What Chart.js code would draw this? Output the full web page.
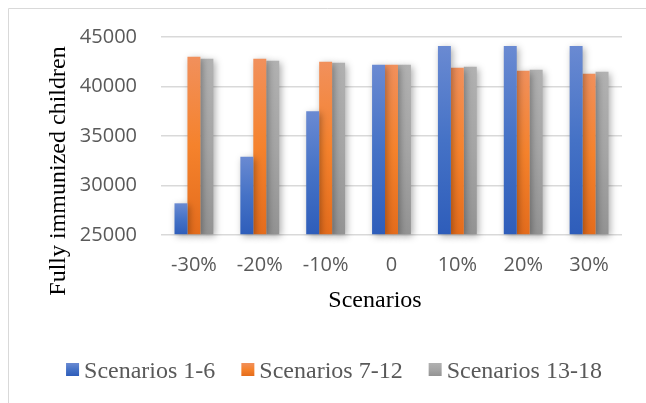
<!DOCTYPE html>
<html>
<head>
<meta charset="utf-8">
<script src="https://cdn.jsdelivr.net/npm/chart.js@4/dist/chart.umd.min.js"></script>
<style>
  html, body { margin: 0; padding: 0; background: #ffffff; }
  #wrap { width: 646px; height: 403px; position: relative; }
</style>
</head>
<body>
<div id="wrap"><canvas id="c" width="646" height="403"></canvas></div>
<script>
// Fully immunized children by scenario group
const categories = ['-30%', '-20%', '-10%', '0', '10%', '20%', '30%'];
const seriesNames = ['Scenarios 1-6', 'Scenarios 7-12', 'Scenarios 13-18'];
const scen1to6   = [28200, 32900, 37500, 42200, 44100, 44100, 44100];
const scen7to12  = [43000, 42800, 42500, 42200, 41900, 41600, 41300];
const scen13to18 = [42800, 42600, 42400, 42200, 42000, 41700, 41500];
const yTicks = [25000, 30000, 35000, 40000, 45000];
const xTitle = 'Scenarios';
const yTitle = 'Fully immunized children';

// vertical gradient stops per series (top, middle, bottom)
const blueStops   = ['#6A8AD2', '#4572C6', '#2E5DBA'];
const orangeStops = ['#F1905C', '#F5822C', '#E46C1C'];
const grayStops   = ['#B1B1B1', '#A5A5A5', '#939393'];

const tickColor = '#595959';
const gridColor = '#d9d9d9';
const axisBase = yTicks[0];

function barFill(stops) {
  return (ctx) => {
    const chart = ctx.chart;
    const y = chart.scales && chart.scales.y;
    if (ctx.type !== 'data' || !y || !ctx.parsed) return stops[1];
    const top = y.getPixelForValue(ctx.parsed.y);
    const bottom = y.getPixelForValue(axisBase);
    if (!isFinite(top) || !isFinite(bottom) || top === bottom) return stops[1];
    const g = chart.ctx.createLinearGradient(0, top, 0, bottom);
    g.addColorStop(0, stops[0]);
    g.addColorStop(0.5, stops[1]);
    g.addColorStop(1, stops[2]);
    return g;
  };
}

// soft drop shadow behind the bars
const barShadow = {
  id: 'barShadow',
  beforeDatasetsDraw(chart) {
    const c = chart.ctx;
    c.save();
    c.shadowColor = 'rgba(0,0,0,0.32)';
    c.shadowBlur = 7;
    c.shadowOffsetX = 2;
    c.shadowOffsetY = 2;
  },
  afterDatasetsDraw(chart) {
    chart.ctx.restore();
  }
};

// frame, axis titles and legend row
const decorations = {
  id: 'decorations',
  beforeDraw(chart) {
    const c = chart.ctx;
    c.save();
    c.strokeStyle = '#d9d9d9';
    c.lineWidth = 1;
    c.beginPath();
    c.moveTo(8.5, 403);
    c.lineTo(8.5, 8.5);
    c.lineTo(646, 8.5);
    c.stroke();
    c.restore();
  },
  afterDraw(chart) {
    const c = chart.ctx;
    c.save();
    c.fillStyle = '#000000';
    c.font = '24px "Liberation Serif"';
    c.textAlign = 'center';
    c.textBaseline = 'alphabetic';
    c.fillText(xTitle, 375, 307);

    c.save();
    c.translate(65, 171);
    c.rotate(-Math.PI / 2);
    c.fillText(yTitle, 0, 0);
    c.restore();

    // legend
    const stopsList = [blueStops, orangeStops, grayStops];
    c.font = '24px "Liberation Serif"';
    c.textAlign = 'left';
    const box = 13, gapText = 5, gapItem = 26;
    const widths = seriesNames.map(n => c.measureText(n).width);
    const total = widths.reduce((a, w) => a + box + gapText + w, 0) + gapItem * (seriesNames.length - 1);
    let x = 334 - total / 2;
    const boxTop = 363;
    seriesNames.forEach((name, i) => {
      const g = c.createLinearGradient(0, boxTop, 0, boxTop + box);
      g.addColorStop(0, stopsList[i][0]);
      g.addColorStop(0.5, stopsList[i][1]);
      g.addColorStop(1, stopsList[i][2]);
      c.fillStyle = g;
      c.fillRect(x, boxTop, box, box);
      c.fillStyle = tickColor;
      c.fillText(name, x + box + gapText, 378);
      x += box + gapText + widths[i] + gapItem;
    });
    c.restore();
  }
};

new Chart(document.getElementById('c'), {
  type: 'bar',
  data: {
    labels: categories,
    datasets: [
      { label: seriesNames[0], data: scen1to6,   backgroundColor: barFill(blueStops) },
      { label: seriesNames[1], data: scen7to12,  backgroundColor: barFill(orangeStops) },
      { label: seriesNames[2], data: scen13to18, backgroundColor: barFill(grayStops) }
    ]
  },
  options: {
    responsive: false,
    animation: false,
    devicePixelRatio: 1,
    datasets: { bar: { barPercentage: 1, categoryPercentage: 0.59, clip: false, borderWidth: 0, base: axisBase } },
    layout: { padding: { left: 0, right: 24, top: 37, bottom: 0 } },
    plugins: {
      legend: { display: false },
      tooltip: { enabled: false },
      title: { display: false }
    },
    scales: {
      x: {
        grid: { display: false, drawTicks: false },
        border: { display: false },
        ticks: { color: tickColor, font: { family: 'Open Sans', size: 20 }, padding: 18, maxRotation: 0 },
        afterFit(s) { s.height = 403 - 235; }
      },
      y: {
        min: 25000,
        max: 45000,
        afterBuildTicks(s) { s.ticks = yTicks.map(v => ({ value: v })); },
        ticks: { color: tickColor, font: { family: 'Open Sans', size: 20 }, padding: 24, callback: v => String(v) },
        grid: { color: gridColor, lineWidth: 1.6, drawTicks: false },
        border: { display: false },
        afterFit(s) { s.width = 161; }
      }
    }
  },
  plugins: [barShadow, decorations]
});
</script>
</body>
</html>
